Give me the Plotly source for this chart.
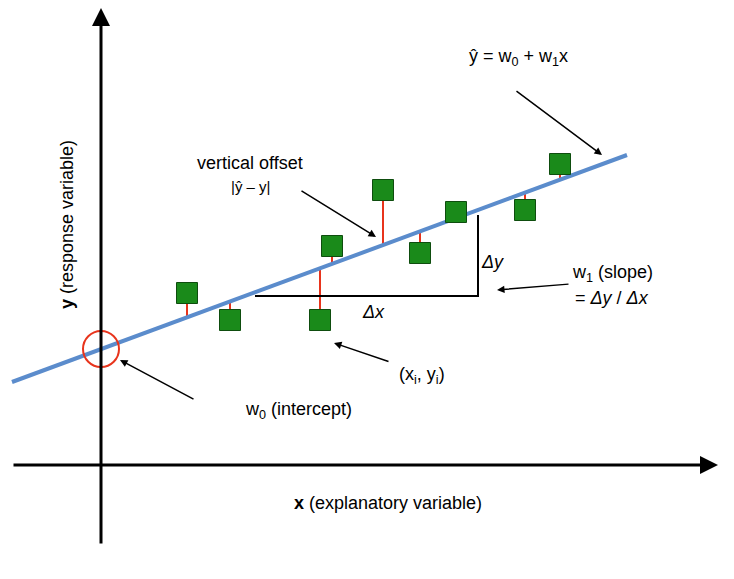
import plotly.graph_objects as go

W, H = 734, 579
OFF = 8  # page body margin in the browser

# regression line end points (pixel-ish coordinates of the diagram)
line_x = [12, 627]
line_y = [382, 155]

# observed points
pts_x = [187, 230, 320, 332, 383, 420, 456, 525, 560]
pts_y = [293, 320, 320, 246, 190, 253, 212, 210, 164]

slope = (line_y[1] - line_y[0]) / (line_x[1] - line_x[0])


def y_hat(x):
    return line_y[0] + slope * (x - line_x[0])


fig = go.Figure()

# residuals
for x, y in zip(pts_x, pts_y):
    fig.add_trace(go.Scatter(x=[x, x], y=[y, y_hat(x)], mode="lines",
                             line=dict(color="#e8341c", width=2), hoverinfo="skip"))

# delta triangle
fig.add_trace(go.Scatter(x=[255, 478, 478], y=[296, 296, 215], mode="lines",
                         line=dict(color="black", width=2), hoverinfo="skip"))

# regression line
fig.add_trace(go.Scatter(x=line_x, y=line_y, mode="lines",
                         line=dict(color="#5b8ccc", width=4), hoverinfo="skip"))

# intercept circle
fig.add_shape(type="circle", x0=83, x1=119, y0=331, y1=367,
              line=dict(color="#e8341c", width=2))

fig.add_trace(go.Scatter(x=pts_x, y=pts_y, mode="markers",
                         marker=dict(symbol="square", size=21, color="#1a8a1a",
                                     line=dict(color="#0e4d0e", width=1)),
                         hoverinfo="skip"))

font = dict(family="Liberation Sans, Arial, sans-serif", size=18, color="black")


def arrow(x0, y0, x1, y1, width=1.5, head=2, size=1):
    fig.add_annotation(x=x1, y=y1, ax=x0, ay=y0, xref="x", yref="y", axref="x", ayref="y",
                       text="", showarrow=True, arrowhead=head, arrowwidth=width,
                       arrowsize=size, arrowcolor="black")


# axes
arrow(101, 545, 101, 8, width=3, size=1.2)
arrow(12, 465, 718, 465, width=3, size=1.2)

# pointer arrows
arrow(515, 90, 602, 155)
arrow(300, 190, 376, 237)
arrow(390, 362, 334, 343)
arrow(195, 400, 120, 360)
arrow(570, 284, 497, 290)

texts = [
    (518, 57, "ŷ = w<sub>0</sub> + w<sub>1</sub>x"),
    (250, 163, "vertical offset"),
    (250, 186, "<span style='font-size:15px'>|ŷ – y|</span>"),
    (492, 262, "<i>Δy</i>"),
    (373, 312, "<i>Δx</i>"),
    (612, 273, "w<sub>1</sub> (slope)"),
    (612, 298, "= <i>Δy</i> / <i>Δx</i>"),
    (422, 375, "(x<sub>i</sub>, y<sub>i</sub>)"),
    (298, 410, "w<sub>0</sub> (intercept)"),
    (388, 503, "<b>x</b> (explanatory variable)"),
]
for x, y, t in texts:
    fig.add_annotation(x=x, y=y, xref="x", yref="y", text=t, showarrow=False, font=font)

fig.add_annotation(x=67, y=225, xref="x", yref="y", text="<b>y</b> (response variable)",
                   showarrow=False, textangle=-90, font=font)

fig.update_layout(width=W, height=H, margin=dict(l=0, r=0, t=0, b=0),
                  plot_bgcolor="white", paper_bgcolor="white", showlegend=False,
                  xaxis=dict(range=[OFF, W + OFF], visible=False),
                  yaxis=dict(range=[H + OFF, OFF], visible=False))

fig.write_html("out.html")
